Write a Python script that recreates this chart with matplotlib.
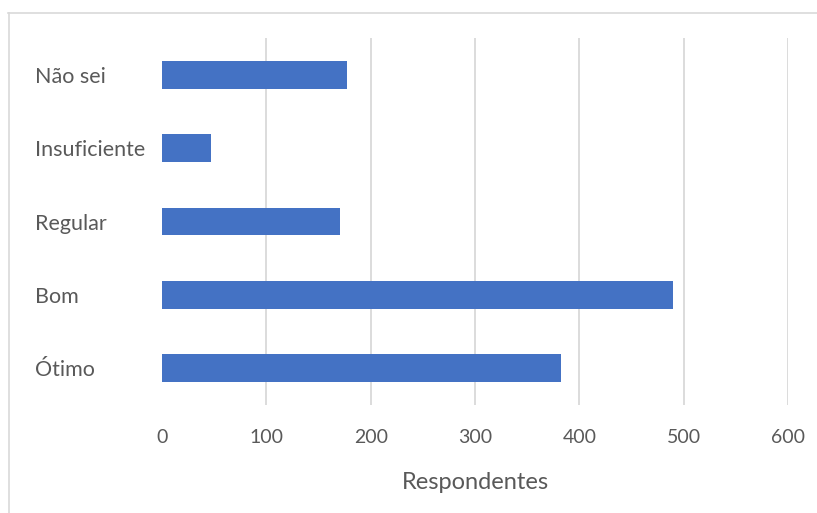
import matplotlib
matplotlib.use("Agg")
import matplotlib.pyplot as plt
from matplotlib.lines import Line2D

# Dados do gráfico
categorias = ["Ótimo", "Bom", "Regular", "Insuficiente", "Não sei"]
respondentes = [382, 490, 171, 47, 177]
ticks_x = [0, 100, 200, 300, 400, 500, 600]

cor_barra = "#4472C4"
cor_texto = "#595959"
cor_grade = "#D9D9D9"

plt.rcParams["font.family"] = ["Lato", "DejaVu Sans"]

W, H = 817, 513
fig = plt.figure(figsize=(W / 100, H / 100), dpi=100)
ax = fig.add_axes([162 / W, 1 - 405 / H, (788 - 162) / W, (405 - 38) / H])

ax.barh(categorias, respondentes, height=0.38, color=cor_barra, zorder=3)

ax.set_xlim(0, 600)
ax.set_ylim(-0.5, len(categorias) - 0.5)
ax.set_xticks(ticks_x)
ax.set_xticklabels([str(t) for t in ticks_x])

# grade vertical (sem a linha do zero)
for t in ticks_x[1:]:
    ax.axvline(t, color=cor_grade, lw=1.3, zorder=1)

for s in ax.spines.values():
    s.set_visible(False)
ax.tick_params(axis="both", length=0, colors=cor_texto)
ax.tick_params(axis="x", pad=17, labelsize=14)
ax.tick_params(axis="y", pad=0, labelsize=15.5)
for lbl in ax.get_yticklabels():
    lbl.set_horizontalalignment("left")
    lbl.set_x(-(162 - 35) / (788 - 162))

ax.set_xlabel("Respondentes", color=cor_texto, fontsize=17, labelpad=19)

# moldura do gráfico (só topo e esquerda visíveis)
fig.add_artist(Line2D([8 / W, 1], [1 - 12.5 / H] * 2, color=cor_grade, lw=1.2))
fig.add_artist(Line2D([8.5 / W] * 2, [0, 1 - 12.5 / H], color=cor_grade, lw=1.2))

fig.savefig("out.png", dpi=100, facecolor="white")
